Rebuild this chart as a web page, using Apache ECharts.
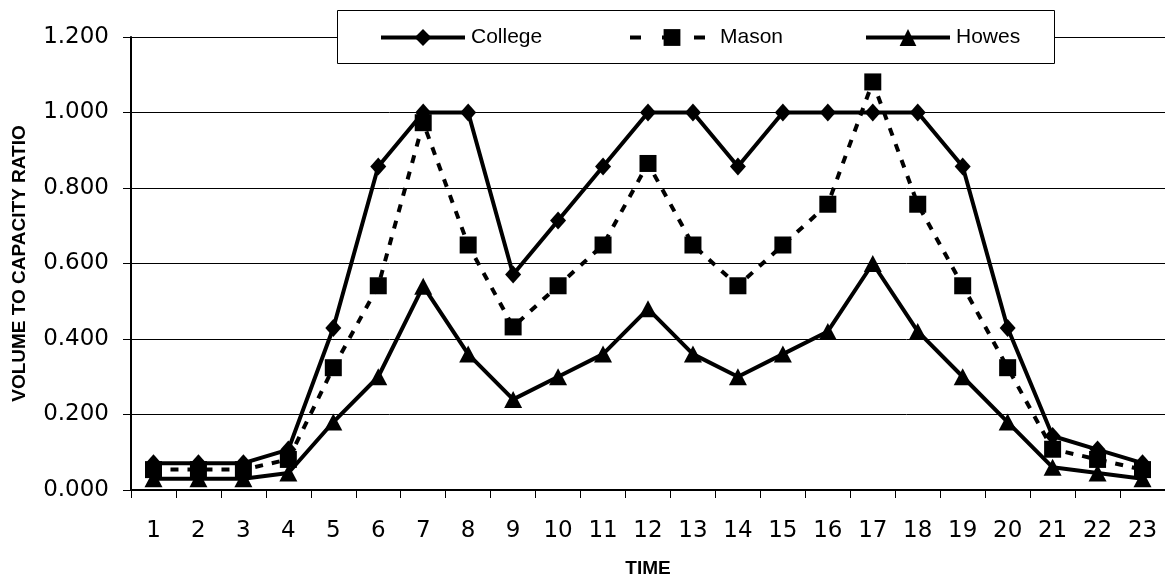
<!DOCTYPE html>
<html>
<head>
<meta charset="utf-8">
<script src="https://cdn.jsdelivr.net/npm/echarts@6/dist/echarts.min.js"></script>
<style>
  html, body { margin: 0; padding: 0; background: #fff; }
  #chart { width: 1165px; height: 583px; }
</style>
</head>
<body>
<div id="chart"></div>
<script>
// Hourly volume-to-capacity ratios for three road segments
const hours = ['1','2','3','4','5','6','7','8','9','10','11','12','13','14','15','16','17','18','19','20','21','22','23'];
const college = [0.071,0.071,0.071,0.107,0.429,0.857,1.000,1.000,0.571,0.714,0.857,1.000,1.000,0.857,1.000,1.000,1.000,1.000,0.857,0.429,0.143,0.107,0.071];
const mason   = [0.054,0.054,0.054,0.081,0.324,0.541,0.973,0.649,0.432,0.541,0.649,0.865,0.649,0.541,0.649,0.757,1.081,0.757,0.541,0.324,0.108,0.081,0.054];
const howes   = [0.030,0.030,0.030,0.045,0.180,0.300,0.540,0.360,0.240,0.300,0.360,0.480,0.360,0.300,0.360,0.420,0.600,0.420,0.300,0.180,0.060,0.045,0.030];
const yTicks  = { min: 0, max: 1.2, step: 0.2 };

const tickFont = '"DejaVu Sans", Verdana, sans-serif';
const titleFont = '"Liberation Sans", Arial, sans-serif';
const legendFont = '"Liberation Sans", Arial, sans-serif';

const chart = echarts.init(document.getElementById('chart'), null, { renderer: 'canvas' });

// One legend block per series so each entry sits at its own spot inside the box
function legendAt(name, left, dash) {
  return {
    data: [name],
    left: left,
    top: 27,
    padding: 0,
    itemWidth: 84,
    itemHeight: 21,
    itemGap: 0,
    selectedMode: false,
    lineStyle: { width: 4, type: dash || 'solid' },
    textStyle: { fontFamily: legendFont, fontSize: 21, color: '#000', padding: [0, 0, 0, 1] },
    z: 10
  };
}

chart.setOption({
  animation: false,
  backgroundColor: '#fff',
  grid: { left: 131, right: 0, top: 37, bottom: 91, containLabel: false },
  graphic: [{
    type: 'rect',
    shape: { x: 337.5, y: 10.5, width: 717, height: 53 },
    style: { fill: '#fff', stroke: '#000', lineWidth: 1 },
    z: 5
  }],
  legend: [
    legendAt('College', 379),
    legendAt('Mason', 628, [11, 21]),
    legendAt('Howes', 864)
  ],
  xAxis: {
    type: 'category',
    data: hours,
    boundaryGap: true,
    name: 'TIME',
    nameLocation: 'middle',
    nameGap: 69,
    nameTextStyle: { fontFamily: titleFont, fontWeight: 'bold', fontSize: 19, color: '#000' },
    axisLine: { lineStyle: { color: '#000', width: 2 } },
    axisTick: { show: true, length: 8, lineStyle: { color: '#000', width: 1 } },
    axisLabel: { margin: 30, fontFamily: tickFont, fontSize: 23, color: '#000' },
    splitLine: { show: false }
  },
  yAxis: {
    type: 'value',
    min: yTicks.min,
    max: yTicks.max,
    interval: yTicks.step,
    name: 'VOLUME TO CAPACITY RATIO',
    nameLocation: 'middle',
    nameGap: 102,
    nameTextStyle: { fontFamily: titleFont, fontWeight: 'bold', fontSize: 19, color: '#000' },
    axisLine: { show: true, lineStyle: { color: '#000', width: 2 } },
    axisTick: { show: true, length: 8, lineStyle: { color: '#000', width: 1 } },
    axisLabel: {
      margin: 22,
      fontFamily: tickFont,
      fontSize: 23,
      color: '#000',
      formatter: v => v.toFixed(3)
    },
    splitLine: { show: true, lineStyle: { color: '#000', width: 1 } }
  },
  series: [
    {
      name: 'College',
      type: 'line',
      data: college,
      symbol: 'diamond',
      symbolSize: [16, 18],
      showAllSymbol: true,
      itemStyle: { color: '#000' },
      lineStyle: { color: '#000', width: 4 },
      z: 3
    },
    {
      name: 'Mason',
      type: 'line',
      data: mason,
      symbol: 'rect',
      symbolSize: [17, 17],
      showAllSymbol: true,
      itemStyle: { color: '#000' },
      lineStyle: { color: '#000', width: 4, type: [8, 9] },
      z: 3
    },
    {
      name: 'Howes',
      type: 'line',
      data: howes,
      symbol: 'triangle',
      symbolSize: [18, 17],
      showAllSymbol: true,
      itemStyle: { color: '#000' },
      lineStyle: { color: '#000', width: 4 },
      z: 3
    }
  ]
});
</script>
</body>
</html>
